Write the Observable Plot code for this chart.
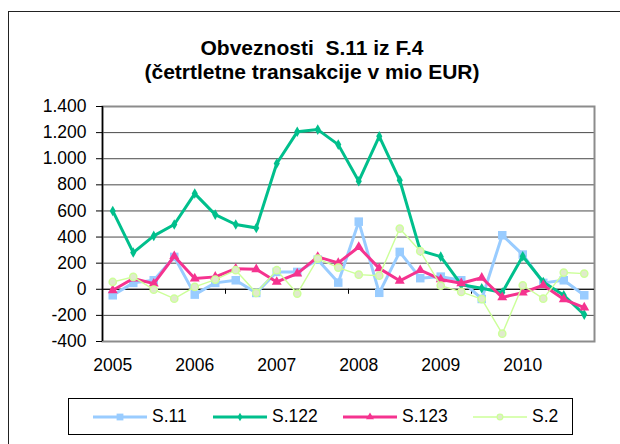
<!DOCTYPE html>
<html><head><meta charset="utf-8">
<script src="https://cdn.jsdelivr.net/npm/d3@7"></script>
<script src="https://cdn.jsdelivr.net/npm/@observablehq/plot@0.6"></script>
<style>
body{margin:0;background:#fff;}
#wrap{position:relative;width:620px;height:444px;overflow:hidden;font-family:"Liberation Sans",Arial,sans-serif;color:#000;background:#fff;}
#outer{position:absolute;left:8px;top:11px;width:700px;height:500px;border-left:1px solid #222;border-top:1px solid #222;}
#title{position:absolute;left:0;top:36px;width:624px;text-align:center;font-weight:bold;font-size:21px;line-height:24px;white-space:pre;}
#chart{position:absolute;left:0;top:0;}
#legend{position:absolute;left:68px;top:398px;width:503px;height:35px;border:1px solid #000;background:#fff;}
.item{position:absolute;top:0;height:35px;display:flex;align-items:center;font-size:17.5px;}
.item svg{margin-right:5px;}
</style></head>
<body>
<div id="wrap">
  <div id="outer"></div>
  <div id="chart"></div>
  <div id="title">Obveznosti  S.11 iz F.4
(četrtletne transakcije v mio EUR)</div>
  <div id="legend"></div>
</div>
<script>
const years = ["2005","2006","2007","2008","2009","2010"];
const quarters = ["Q1","Q2","Q3","Q4"];
const yTicks = [-400,-200,0,200,400,600,800,1000,1200,1400];
const seriesNames = ["S.11","S.122","S.123","S.2"];

const s11  = [-46, 49, 69, 248, -41, 49, 69, -28, 133, 133, 227, 51, 518, -27, 286, 85, 97, 69, -74, 414, 266, 49, 69, -46];
const s122 = [600, 281, 409, 496, 733, 572, 496, 470, 963, 1206, 1223, 1108, 828, 1172, 835, 296, 250, 35, 8, -24, 253, 56, -46, -194];
const s123 = [-8, 82, 43, 253, 82, 95, 158, 153, 56, 120, 248, 202, 324, 160, 65, 146, 75, 46, 88, -62, -26, 31, -77, -140];
const s2   = [56, 95, -3, -72, 18, 74, 146, -28, 146, -33, 235, 166, 112, 104, 465, 292, 28, -20, -75, -340, 31, -72, 128, 120];

const colors = ["#99CCFF", "#00BF8C", "#F5338F", "#CCFF99"];
const symbols = ["square", "diamond", "triangle", "circle"];

const categories = years.flatMap(y => quarters.map(q => `${y} ${q}`));
const seriesValues = [s11, s122, s123, s2];
const rows = seriesNames.flatMap((name, k) =>
  categories.map((c, i) => ({i, category: c, series: name, value: seriesValues[k][i]})));

const fmt = d3.formatLocale({decimal: ",", thousands: ".", grouping: [3], currency: ["", ""], minus: "-"}).format(",d");
const yearIdx = years.map((y, j) => j * quarters.length);
const tickIdx = d3.range(6, categories.length, 6).map(i => i - 0.5);

const styleOf = [
  {strokeWidth: 3, r: 4.8, fill: colors[0], stroke: "none"},
  {strokeWidth: 3, r: 3.2, fill: colors[1], stroke: "none"},
  {strokeWidth: 3, r: 3.7, fill: colors[2], stroke: "none"},
  {strokeWidth: 1.4, r: 3.6, fill: "#E0EACC", stroke: colors[3]}
];

const lineMarks = seriesNames.flatMap((name, k) => {
  const d = rows.filter(r => r.series === name);
  return [
    Plot.line(d, {x: "i", y: "value", stroke: colors[k], strokeWidth: styleOf[k].strokeWidth}),
    Plot.dot(d, {x: "i", y: "value", symbol: symbols[k], r: styleOf[k].r, fill: styleOf[k].fill,
                 stroke: styleOf[k].stroke, strokeWidth: 1.5})
  ];
});

const chart = Plot.plot({
  width: 620, height: 444,
  marginLeft: 102, marginRight: 26, marginTop: 106, marginBottom: 103,
  style: {fontFamily: "Liberation Sans, Arial, sans-serif", fontSize: "17.5px", background: "transparent", color: "#000"},
  x: {type: "linear", domain: [-0.5, categories.length - 0.5]},
  y: {domain: [yTicks[0], yTicks[yTicks.length - 1]]},
  marks: [
    Plot.gridY(yTicks, {stroke: "#4a4a4a", strokeOpacity: 1, strokeWidth: 1}),
    Plot.frame({stroke: "#8c8c8c", strokeWidth: 2}),
    Plot.ruleX([-0.5], {stroke: "#000", strokeWidth: 1.5}),
    Plot.ruleY([0], {stroke: "#000", strokeWidth: 1}),
    Plot.ruleX(tickIdx, {y1: 0, y2: 0, insetBottom: -5, stroke: "#000"}),
    Plot.axisY(yTicks, {tickSize: 6, tickPadding: 10, tickFormat: fmt, label: null, stroke: "#000"}),
    Plot.axisX(yearIdx, {anchor: "bottom", tickSize: 0, tickPadding: 17, tickFormat: i => years[i / quarters.length], label: null}),
    ...lineMarks
  ]
});
document.getElementById("chart").appendChild(chart);

// legend
const legend = document.getElementById("legend");
const lefts = [24, 144, 274, 404];
seriesNames.forEach((name, k) => {
  const item = document.createElement("div");
  item.className = "item";
  item.style.left = lefts[k] + "px";
  const svg = d3.create("svg").attr("width", 54).attr("height", 14);
  svg.append("line").attr("x1", 0).attr("x2", 54).attr("y1", 7).attr("y2", 7)
    .attr("stroke", colors[k]).attr("stroke-width", styleOf[k].strokeWidth);
  const sym = {square: d3.symbolSquare, diamond: d3.symbolDiamond, triangle: d3.symbolTriangle, circle: d3.symbolCircle}[symbols[k]];
  const rr = styleOf[k].r * 0.8;
  svg.append("path").attr("transform", "translate(27,7)")
    .attr("d", d3.symbol(sym, Math.PI * rr * rr)())
    .attr("fill", styleOf[k].fill).attr("stroke", styleOf[k].stroke).attr("stroke-width", 1.2);
  item.appendChild(svg.node());
  const t = document.createElement("span");
  t.textContent = name;
  item.appendChild(t);
  legend.appendChild(item);
});
</script>
</body></html>
